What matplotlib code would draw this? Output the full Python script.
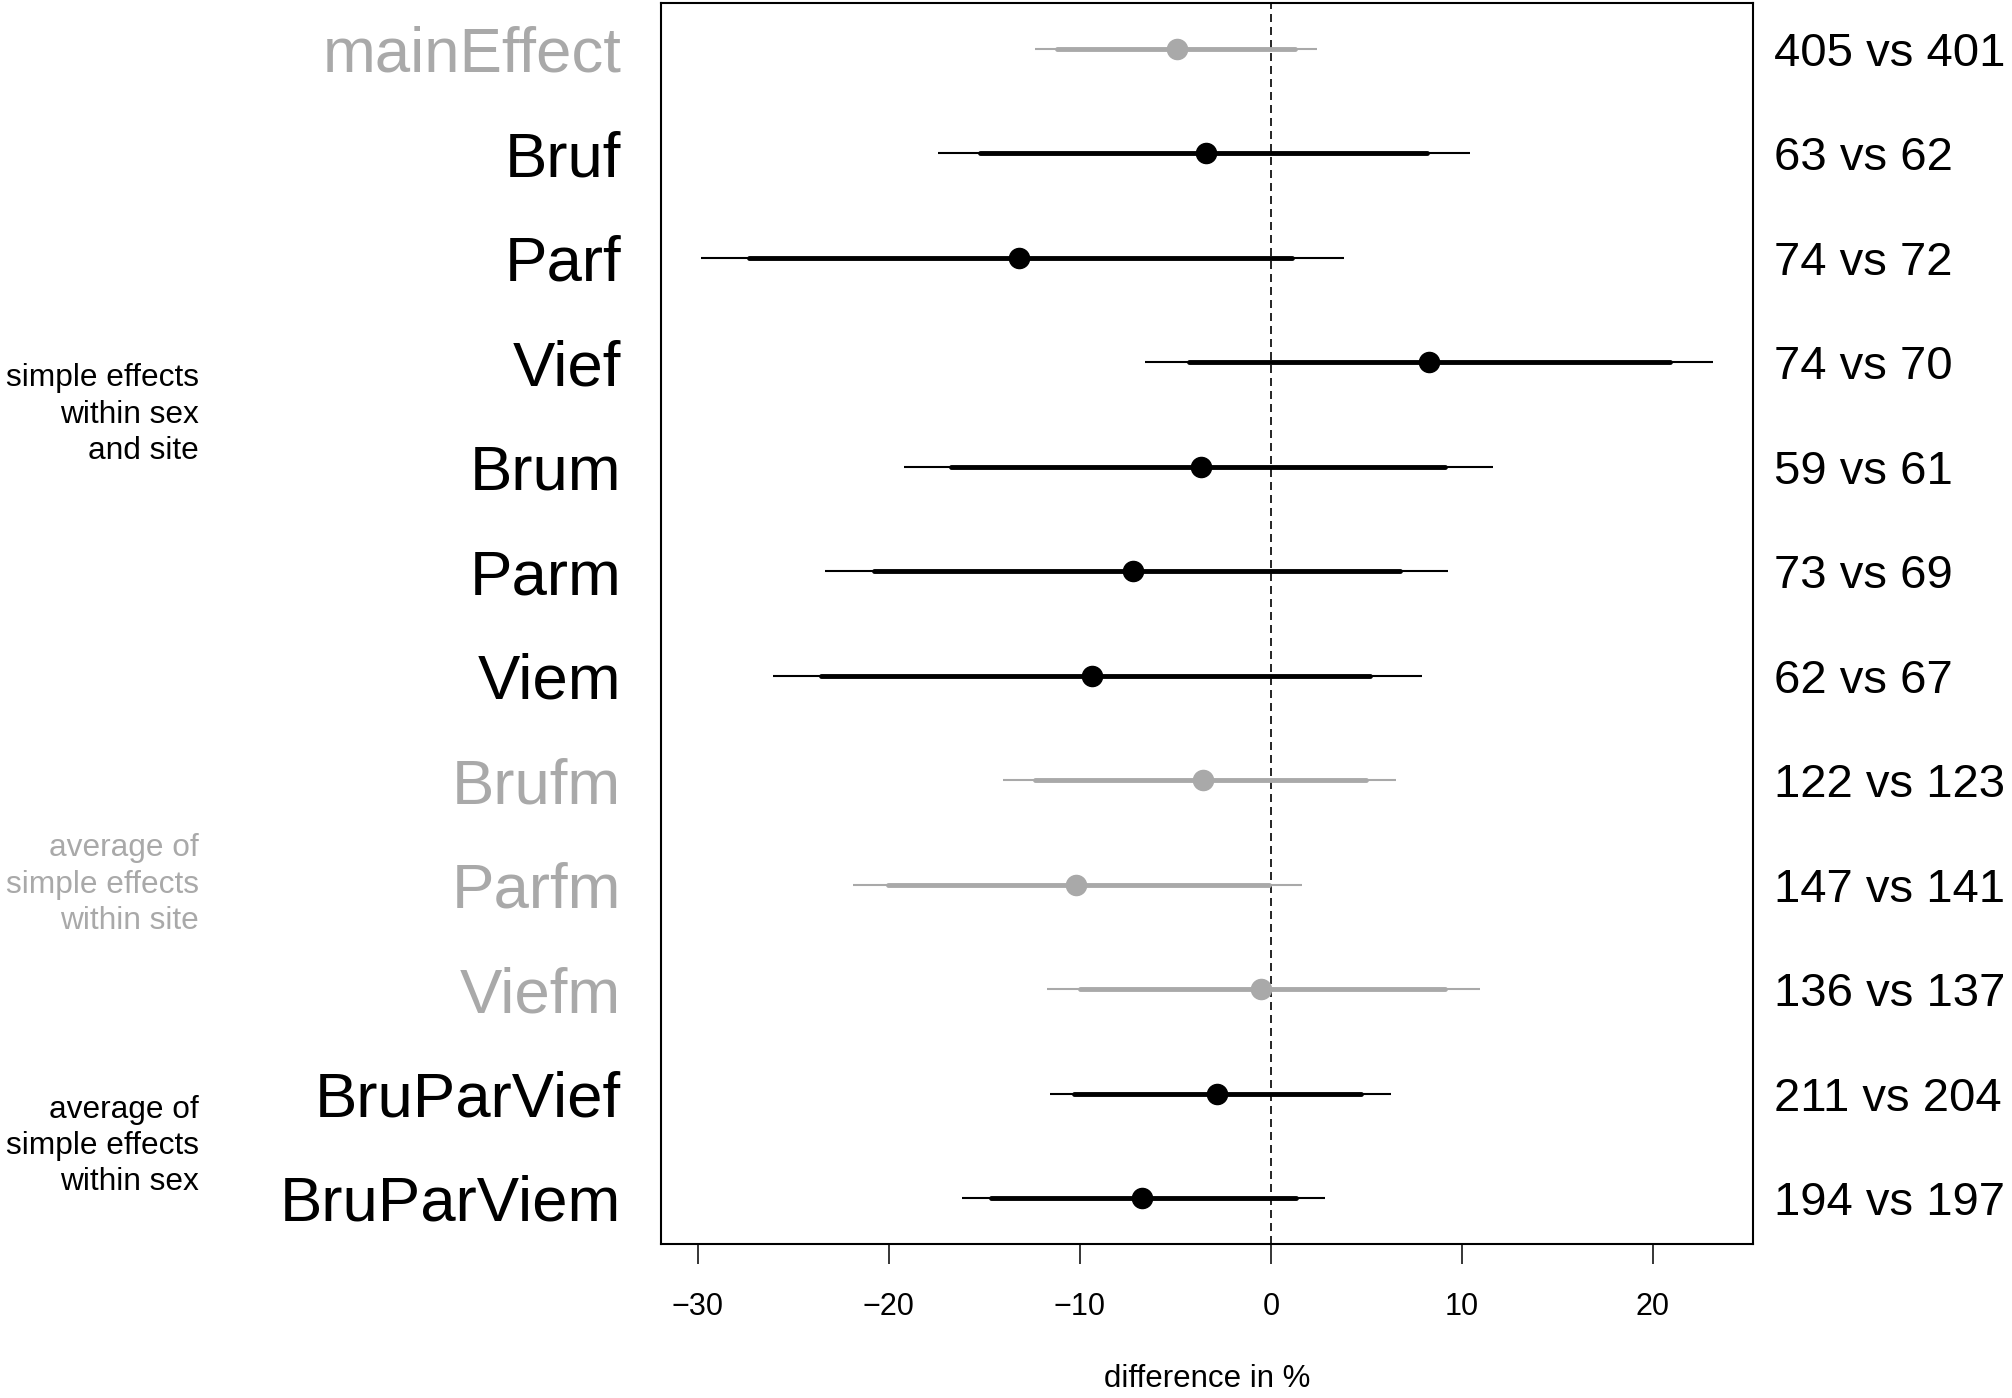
import numpy as np
import matplotlib.pyplot as plt
import matplotlib.transforms as mtransforms

plt.rcParams['font.family'] = ['Liberation Sans', 'DejaVu Sans']

# ---- data ----
labels = ["mainEffect", "Bruf", "Parf", "Vief", "Brum", "Parm", "Viem",
          "Brufm", "Parfm", "Viefm", "BruParVief", "BruParViem"]
estimate = [-4.94, -3.39, -13.20, 8.26, -3.68, -7.21, -9.38,
            -3.54, -10.19, -0.53, -2.81, -6.74]
outer_lo = [-12.35, -17.42, -29.84, -6.59, -19.22, -23.37, -26.09,
            -14.04, -21.90, -11.70, -11.59, -16.18]
outer_hi = [2.43, 10.43, 3.81, 23.13, 11.64, 9.25, 7.89,
            6.56, 1.64, 10.97, 6.27, 2.82]
inner_lo = [-11.18, -15.22, -27.34, -4.28, -16.76, -20.80, -23.55,
            -12.35, -20.07, -10.01, -10.30, -14.67]
inner_hi = [1.24, 8.15, 1.09, 20.89, 9.10, 6.75, 5.20,
            4.99, -0.08, 9.14, 4.73, 1.31]
counts = ["405 vs 401", "63 vs 62", "74 vs 72", "74 vs 70", "59 vs 61",
          "73 vs 69", "62 vs 67", "122 vs 123", "147 vs 141", "136 vs 137",
          "211 vs 204", "194 vs 197"]
is_gray = [True, False, False, False, False, False, False,
           True, True, True, False, False]

groups = ["simple effects\nwithin sex\nand site",
          "average of\nsimple effects\nwithin site",
          "average of\nsimple effects\nwithin sex"]
group_rows = [(6, 11), (3, 5), (1, 2)]
group_gray = [False, True, False]

xticks = [-30, -20, -10, 0, 10, 20]

GRAY = '#A9A9A9'
n = len(labels)
rows = np.arange(n, 0, -1)   # top row = n

fig = plt.figure(figsize=(20.12, 13.98), dpi=100)
ax = fig.add_axes([0.3283, 0.1102, 0.5430, 0.8877])

for i in range(n):
    col = GRAY if is_gray[i] else 'black'
    y = rows[i]
    ax.plot([outer_lo[i], outer_hi[i]], [y, y], color=col, lw=1.5,
            solid_capstyle='butt', zorder=2)
    ax.plot([inner_lo[i], inner_hi[i]], [y, y], color=col, lw=3.5,
            solid_capstyle='round', zorder=3)
    ax.plot(estimate[i], y, 'o', color=col, ms=14.5, zorder=4)

ax.axvline(0, color='black', lw=1.2, dashes=(4.8, 3), zorder=1)

# R-style 4% axis extension
lo, hi = min(outer_lo), max(outer_hi)
pad = 0.04 * (hi - lo)
ax.set_xlim(lo - pad, hi + pad)
ax.set_ylim(1 - 0.04 * (n - 1), n + 0.04 * (n - 1))
ax.set_xticks([])
ax.set_yticks([])
for s in ax.spines.values():
    s.set_linewidth(1.5)

# x axis ticks and labels, R style (long ticks, labels well below)
trx = mtransforms.blended_transform_factory(ax.transData, ax.transAxes)
for t in xticks:
    ax.plot([t, t], [0, -0.0161], transform=trx, color='black', lw=1.1,
            clip_on=False, solid_capstyle='butt')
    ax.text(t, -0.0572, str(t).replace('-', '\u2212'), transform=trx,
            ha='center', va='baseline', fontsize=22)

tr = mtransforms.blended_transform_factory(ax.transAxes, ax.transData)
for i in range(n):
    col = GRAY if is_gray[i] else 'black'
    ax.text(-0.036, rows[i], labels[i], transform=tr, ha='right',
            va='center_baseline', fontsize=45.7, color=col)
    ax.text(1.0192, rows[i], counts[i], transform=tr, ha='left',
            va='center_baseline', fontsize=34, color='black')

for g, (r0, r1), gg in zip(groups, group_rows, group_gray):
    ax.text(-0.4224, (r0 + r1) / 2, g, transform=tr, ha='right',
            va='center', fontsize=22.8, linespacing=1.27,
            color=GRAY if gg else 'black')

ax.text(0.5, -0.1088, "difference in %", transform=ax.transAxes,
        ha='center', va='center', fontsize=22.5)

fig.savefig('out.png', dpi=100)
